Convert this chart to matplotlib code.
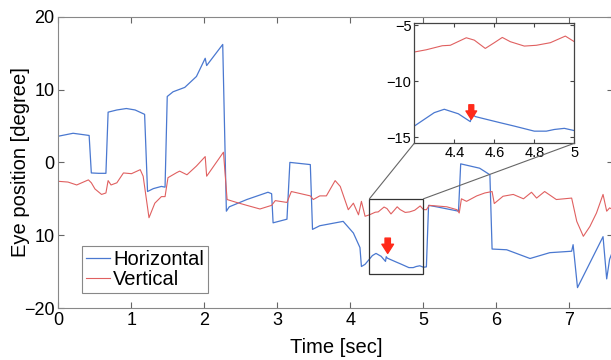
import matplotlib

matplotlib.use("Agg")
import matplotlib.pyplot as plt
from matplotlib.patches import Rectangle, ConnectionPatch

plt.rcParams["font.family"] = ["Liberation Sans", "DejaVu Sans"]

# ---------------------------------------------------------------------------
# data
# ---------------------------------------------------------------------------
time_h = [0.00, 0.20, 0.42, 0.45, 0.55, 0.65, 0.68, 0.80, 0.93, 1.05, 1.18,
          1.22, 1.30, 1.41, 1.46, 1.49, 1.57, 1.73, 1.89, 2.01, 2.03, 2.25,
          2.30, 2.34, 2.58, 2.87, 2.92, 2.94, 3.13, 3.17, 3.45, 3.48, 3.58,
          3.90, 4.04, 4.13, 4.15, 4.20, 4.25, 4.30, 4.35, 4.42, 4.48, 4.49,
          4.505, 4.55, 4.63, 4.70, 4.80, 4.86, 4.90, 4.95, 5.00, 5.04, 5.07,
          5.18, 5.48, 5.51, 5.77, 5.91, 5.94, 6.14, 6.46, 6.73, 7.03, 7.05,
          7.11, 7.46, 7.51, 7.55, 7.60]
horizontal = [3.6, 4.0, 3.7, -1.45, -1.5, -1.5, 6.9, 7.2, 7.4, 7.2, 6.6,
              -4.0, -3.6, -3.3, -3.4, 9.05, 9.7, 10.3, 11.8, 14.3, 13.3, 16.2,
              -6.7, -6.1, -5.1, -4.1, -4.3, -8.3, -7.8, 0.0, -0.3, -9.2, -8.7,
              -8.1, -9.7, -11.7, -14.3, -14.0, -13.4, -12.8, -12.5, -12.9,
              -13.6, -12.95, -13.15, -13.35, -13.7, -14.0, -14.45, -14.45,
              -14.3, -14.2, -14.4, -14.35, -5.9, -6.1, -6.7, -0.2, -0.8, -1.7,
              -11.9, -12.0, -13.2, -12.4, -12.2, -11.3, -17.2, -10.2, -16.0,
              -13.3, -12.0]

time_v = [0.00, 0.13, 0.25, 0.41, 0.45, 0.50, 0.59, 0.65, 0.68, 0.72, 0.80,
          0.89, 1.00, 1.12, 1.16, 1.24, 1.32, 1.41, 1.46, 1.50, 1.62, 1.66,
          1.76, 1.89, 2.01, 2.03, 2.26, 2.31, 2.44, 2.58, 2.76, 2.92, 2.97,
          3.13, 3.19, 3.45, 3.49, 3.58, 3.67, 3.79, 3.86, 3.97, 4.04, 4.11,
          4.15, 4.20, 4.26, 4.34, 4.38, 4.46, 4.50, 4.555, 4.60, 4.64, 4.68,
          4.75, 4.81, 4.88, 4.955, 5.00, 5.04, 5.08, 5.32, 5.46, 5.49, 5.52,
          5.59, 5.73, 5.84, 5.94, 5.97, 6.09, 6.23, 6.37, 6.48, 6.55, 6.66,
          6.82, 7.03, 7.10, 7.19, 7.28, 7.37, 7.46, 7.51, 7.55, 7.60]
vertical = [-2.6, -2.7, -3.1, -2.4, -2.8, -3.65, -4.4, -4.2, -2.5, -3.1, -2.8,
            -1.45, -1.55, -1.0, -1.9, -7.6, -5.6, -4.7, -4.7, -2.1, -1.4, -1.2,
            -1.7, -0.5, 0.8, -1.9, 1.4, -5.1, -5.5, -5.9, -6.4, -5.9, -5.25,
            -5.5, -4.0, -4.6, -5.1, -4.6, -4.6, -2.5, -3.3, -6.5, -5.6, -7.2,
            -5.35, -7.4, -7.2, -6.84, -6.8, -6.13, -6.34, -7.08, -6.57, -6.1,
            -6.48, -6.87, -6.8, -6.57, -5.98, -6.48, -6.5, -5.9, -6.1, -6.5,
            -6.95, -5.0, -5.35, -4.6, -4.2, -4.0, -5.65, -4.65, -4.4, -5.0,
            -4.1, -4.9, -4.0, -5.1, -4.9, -8.1, -10.15, -8.8, -6.95, -4.4,
            -6.7, -6.25, -6.5]

x_ticks = [0, 1, 2, 3, 4, 5, 6, 7]
y_ticks = [-20, -10, 0, 10, 20]
y_tick_labels = ["\u221220", "10", "0", "10", "20"]

inset_x_ticks = [4.4, 4.6, 4.8, 5.0]
inset_x_labels = ["4.4", "4.6", "4.8", "5"]
inset_y_ticks = [-15, -10, -5]
inset_y_labels = ["\u221215", "\u221210", "\u22125"]

zoom_x = (4.26, 5.0)
zoom_y = (-15.3, -5.0)
arrow_main = (4.51, -10.4, -12.5)
arrow_inset = (4.485, -12.1, -13.4)

BLUE = "#4a78d0"
RED = "#e06060"
ARROW = "#ff2a1a"

# ---------------------------------------------------------------------------
fig = plt.figure(figsize=(6.11, 3.6), dpi=100)
ax = fig.add_axes([0.0957, 0.1444, 0.908, 0.809])

ax.plot(time_h, horizontal, color=BLUE, lw=0.9, label="Horizontal")
ax.plot(time_v, vertical, color=RED, lw=0.8, label="Vertical")

ax.set_xlim(0, 7.6)
ax.set_ylim(-20, 20)
ax.set_xticks(x_ticks)
ax.set_xticklabels([str(t) for t in x_ticks])
ax.set_yticks(y_ticks)
ax.set_yticklabels(y_tick_labels)
ax.tick_params(direction="in", length=4, width=0.8, color="#666666",
               top=True, right=True, labelsize=13, pad=3)
for sp in ax.spines.values():
    sp.set_color("#888888")
    sp.set_linewidth(0.8)

ax.set_xlabel("Time [sec]", fontsize=14.5, va="center")
ax.set_ylabel("Eye position [degree]", fontsize=14.5, va="center")
ax.xaxis.set_label_coords(0.5, -0.134)
ax.yaxis.set_label_coords(-0.069, 0.5)

leg = ax.legend(loc="lower left", bbox_to_anchor=(0.042, 0.0525),
                borderaxespad=0, fancybox=False, fontsize=14.5,
                handlelength=1.2, handletextpad=0.15, labelspacing=0.05,
                borderpad=0.2, framealpha=1)
leg.get_frame().set_edgecolor("#888888")
leg.get_frame().set_linewidth(0.8)

# zoom box in main axes
ax.add_patch(Rectangle((zoom_x[0], zoom_y[0]), zoom_x[1] - zoom_x[0],
                       zoom_y[1] - zoom_y[0], fill=False, ec="#333333",
                       lw=0.9, zorder=4))

arrow_style = "simple,head_length=0.55,head_width=0.7,tail_width=0.32"
ax.annotate("", xy=(arrow_main[0], arrow_main[2]),
            xytext=(arrow_main[0], arrow_main[1]),
            arrowprops=dict(arrowstyle=arrow_style, color=ARROW,
                            shrinkA=0, shrinkB=0, mutation_scale=12))

# ---------------------------------------------------------------------------
# inset
# ---------------------------------------------------------------------------
axi = fig.add_axes([0.678, 0.602, 0.262, 0.333])
axi.plot(time_h, horizontal, color=BLUE, lw=0.9)
axi.plot(time_v, vertical, color=RED, lw=0.8)
axi.set_xlim(4.2, 5.0)
axi.set_ylim(-15.53, -4.85)
axi.set_xticks(inset_x_ticks)
axi.set_xticklabels(inset_x_labels)
axi.set_yticks(inset_y_ticks)
axi.set_yticklabels(inset_y_labels)
axi.tick_params(direction="in", length=3, width=0.8, color="#444444",
                top=True, right=True, labelsize=10.5, pad=2)
for sp in axi.spines.values():
    sp.set_color("#444444")
    sp.set_linewidth(0.9)

axi.annotate("", xy=(arrow_inset[0], arrow_inset[2]),
             xytext=(arrow_inset[0], arrow_inset[1]),
             arrowprops=dict(arrowstyle=arrow_style, color=ARROW,
                             shrinkA=0, shrinkB=0, mutation_scale=11))

# connector lines from the zoom box to the inset
for xa, xb in [(zoom_x[0], 0.0), (zoom_x[1], 1.0)]:
    con = ConnectionPatch(xyA=(xa, zoom_y[1]), coordsA=ax.transData,
                          xyB=(xb, 0.0), coordsB=axi.transAxes,
                          color="#666666", lw=0.8)
    fig.add_artist(con)

fig.savefig("out.png", dpi=100)
